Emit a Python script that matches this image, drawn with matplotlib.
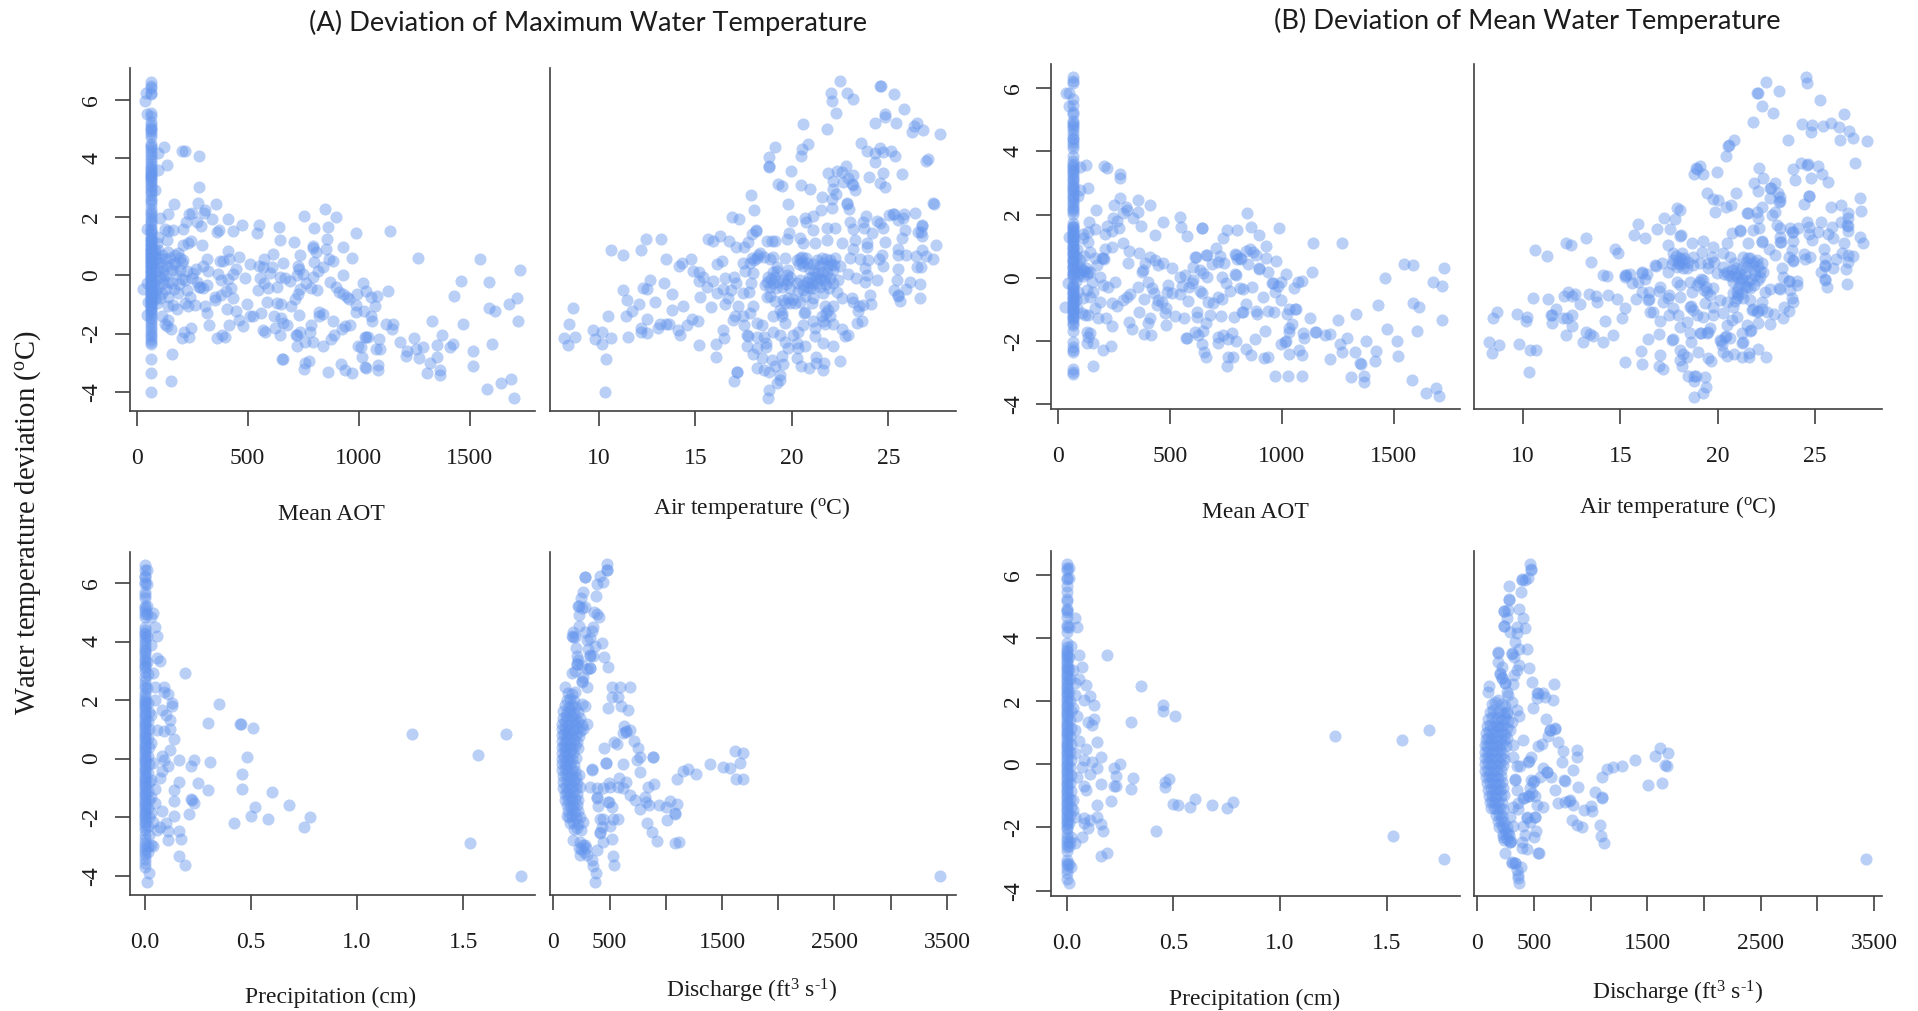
import numpy as np
import matplotlib
matplotlib.use("Agg")
import matplotlib.pyplot as plt

plt.rcParams['font.family'] = ['Liberation Serif', 'DejaVu Sans']
plt.rcParams['mathtext.fontset'] = 'custom'
plt.rcParams['mathtext.rm'] = 'Liberation Serif'
plt.rcParams['mathtext.default'] = 'rm'

W, H = 1918, 1011
POINT_COLOR = '#6495ED'
AXIS_COLOR = '#404040'
TEXT_COLOR = '#1c1c1c'

# (A) deviation of maximum water temperature vs mean AOT
aot_fill_a = 63
aot_max_col = [6.62,6.5,6.42,6.25,6.2,5.55,5.45,5.25,5.15,5.05,5.0,4.95,4.85,4.75,4.5,4.42,4.35,4.25,4.15,4.05,3.95,3.85,3.75,3.68,3.6,3.55,3.48,3.42,3.38,3.32,3.25,3.18,3.1,3.02,2.92,2.85,2.75,2.62,2.55,2.45,2.28,2.18,2.1,2.0,1.9,1.82,1.72,1.6,1.55,1.48,1.4,1.32,1.25,1.18,1.1,1.02,.95,.88,.82,.75,.7,.62,.55,.5,.42,.35,.3,.22,.15,.1,.02,-.05,-.12,-.2,-.25,-.32,-.4,-.45,-.52,-.6,-.65,-.72,-.8,-.85,-.92,-1.0,-1.08,-1.15,-1.25,-1.32,-1.42,-1.5,-1.6,-1.7,-1.8,-1.92,-2.0,-2.08,-2.18,-2.28,-2.36,-2.86,-3.35,-4.0,
    1.2,1.05,.9,.72,.58,.45,.28,.12,-.02,-.15,-.3,-.42,-.58,-.7,-.88,-1.02,-1.2]
aot_max_pts = [(37,5.97),(42,6.24),(48,5.54),(125,4.38),(98,4.19),(203,4.27),(218,4.26),(279,4.09),(137,3.77),(98,3.59),(279,3.04),(83,2.92),(168,2.44),(276,2.47),(356,2.45),(310,2.23),(302,2.12),(248,2.14),(237,2.09),(140,2.09),(105,1.97),(338,1.93),(410,1.93),(222,1.82),(270,1.82),(290,1.69),(473,1.73),(549,1.71),(642,1.64),(755,2.04),(848,2.27),(899,1.98),(860,1.65),(798,1.63),(987,1.44),(1140,1.5),(543,1.44),(208,1.6),(128,1.6),(143,1.52),(162,1.54),(360,1.48),(370,1.54),(432,1.5),(138,1.21),(644,1.2),(707,1.13),(857,1.25),(245,1.19),(233,1.09),(207,1.04),(293,1.04),(792,1.01),(806,.81),(795,.93),(852,.89),(929,.96),(411,.82),(615,.72),(734,.71),(462,.62),(1268,.6),(1548,.56),(972,.58),(315,.57),(417,.55),(377,.49),(390,.5),(573,.55),(866,.55),(882,.5),(797,.46),(659,.41),(510,.4),(551,.32),(567,.27),(609,.28),(725,.32),(729,.2),(840,.27),(818,.14),(446,.23),(300,.3),(323,.14),(267,.22),(365,.06),(1727,.18),(435,.05),(602,.08),(645,-.05),(668,-.1),(690,-.19),(720,0),(750,.03),(929,.01),(795,-.06),(486,-.1),(555,-.11),(380,-.15),(410,-.14),(1460,-.18),(1586,-.22),(1020,-.27),(870,-.24),(575,-.25),(762,-.27),(786,-.43),(900,-.41),(912,-.56),(930,-.65),(1033,-.55),(1134,-.55),(547,-.5),(592,-.42),(630,-.41),(735,-.46),(727,-.64),(814,-.52),(993,-.64),(424,-.42),(402,-.55),(382,-.67),(352,-.73),(354,-.84),(315,-.33),(279,-.41),(300,-.44),(1428,-.71),(1057,-.75),(1084,-.7),(949,-.75),(955,-.8),(1714,-.79),(712,-.81),(435,-.79),(585,-.9),(630,-.96),(652,-.99),(694,-1.04),(495,-.98),(1677,-.97),(990,-1.01),(1072,-1.06),(307,-1.04),(262,-1.01),(408,-1.15),(447,-1.22),(1587,-1.11),(1615,-1.21),(987,-1.25),(1023,-1.24),(822,-1.25),(840,-1.32),(819,-1.38),(318,-1.31),(561,-1.3),(510,-1.38),(525,-1.39),(729,-1.37),(619,-1.41),(648,-1.45),(462,-1.52),(885,-1.55),(1057,-1.41),(1060,-1.56),(1330,-1.58),(1716,-1.58),(1468,-1.66),(327,-1.69),(414,-1.69),(480,-1.75),(1125,-1.66),(1155,-1.66),(1150,-1.85),(657,-1.64),(679,-1.7),(783,-1.69),(963,-1.71),(940,-1.75),(927,-1.85),(570,-1.87),(577,-1.93),(622,-1.81),(243,-1.81),(213,-1.96),(736,-1.93),(780,-1.96),(889,-2.04),(717,-2.04),(722,-2.05),(645,-2.06),(360,-2.15),(384,-2.06),(397,-2.1),(202,-2.14),(237,-2.11),(1035,-2.1),(1040,-2.1),(1030,-2.1),(1374,-2.06),(1251,-2.15),(1092,-2.2),(877,-2.2),(1188,-2.27),(760,-2.3),(792,-2.28),(721,-2.42),(838,-2.43),(997,-2.43),(1012,-2.46),(1425,-2.34),(1413,-2.47),(1351,-2.4),(1290,-2.46),(1260,-2.52),(1077,-2.51),(1098,-2.51),(1602,-2.34),(1516,-2.6),(1218,-2.61),(1215,-2.75),(157,-2.71),(1272,-2.85),(1351,-2.8),(1014,-2.81),(655,-2.86),(658,-2.88),(777,-2.95),(757,-2.99),(755,-3.2),(920,-3.04),(937,-3.25),(969,-3.36),(1323,-3.01),(1516,-3.11),(1089,-3.09),(1089,-3.26),(1030,-3.16),(1032,-3.18),(861,-3.3),(1308,-3.34),(1365,-3.26),(1368,-3.43),(1687,-3.57),(1642,-3.69),(1580,-3.91),(1701,-4.22),(156,-3.61),
    (98,.87),(143,.81),(173,.7),(195,.58),(210,.52),(105,.41),(135,.3),(120,.13),(158,.18),(195,.18),(225,.13),(255,.07),(105,-.05),(143,-.22),(120,-.27),(158,-.27),(218,-.16),(248,-.1),(270,-.22),(285,-.39),(225,-.5),(188,-.62),(98,-.44),(105,-.79),(143,-.73),(240,-.73),(143,-1.05),(165,-1.01),(180,-1.16),(232,-1.07),(218,-.96),(113,-1.41),(143,-1.53),(128,-1.66),(153,-1.85),(135,-1.73),(90,-.96),(30,-.46),(45,-.27),(48,-1.36),(50,-.92),(48,1.57),(98,1.32),(90,1.09),(83,.87),(188,.75),(150,.58),(113,.7),(173,.41),(203,.41),(85,.6),(90,.2),(85,-.15),(88,-.6),
    (82,.75),(80,.45),(82,.1),(80,-.3),(82,-.5),(84,-.8),(100,.6),(112,.28),(128,.55),(118,-.1),(130,-.48),(112,-.62),(128,.02),(160,.4),(178,.05),(190,-.3),(205,-.12),(168,-.48)]

# (A) vs air temperature
air_max_pts = [(22.5,6.64),(22.02,6.25),(22.08,5.97),(22.86,6.25),(23.19,6.04),(24.57,6.47),(24.6,6.47),(25.3,6.21),(22.29,5.55),(25.83,5.69),(24.85,5.54),(24.81,5.42),(20.56,5.19),(21.81,5.0),(24.33,5.22),(25.4,5.23),(26.5,5.22),(26.33,5.12),(26.22,4.91),(26.8,4.97),(27.7,4.83),(23.6,4.54),(23.91,4.27),(24.57,4.36),(24.33,4.19),(24.74,4.21),(25.14,4.27),(25.35,4.09),(24.31,3.87),(26.95,3.91),(27.07,3.97),(20.84,4.49),(20.51,4.31),(20.46,4.07),(19.13,4.38),(18.84,4.05),(18.8,3.72),(18.84,3.74),(19.96,3.57),(21.89,3.52),(22.32,3.58),(22.58,3.54),(22.81,3.75),(23.19,3.43),(22.93,3.32),(22.64,3.18),(23.15,3.09),(23.12,3.12),(23.27,2.92),(22.12,3.23),(24.0,3.37),(24.72,3.52),(25.73,3.46),(24.59,3.15),(24.85,3.04),(19.27,3.12),(19.48,3.07),(20.46,3.08),(20.96,2.97),(22.15,2.94),(22.29,2.8),(22.08,2.62),(21.58,2.67),(17.89,2.74),(18.06,2.22),(19.79,2.45),(22.84,2.46),(22.88,2.44),(22.95,2.27),(22.08,2.3),(21.53,2.23),(27.33,2.46),(27.36,2.45),(16.89,1.98),(17.27,1.93),(21.12,2.04),(20.69,1.95),(20.72,1.83),(20,1.85),(23.84,2.04),(25.03,2.07),(25.26,2.11),(25.3,2.1),(25.83,2.11),(26.36,2.13),(25.52,1.89),(25.74,1.95),(23.03,1.81),(23.67,1.81),(23.74,1.63),(24.4,1.86),(24.57,1.78),(24.74,1.63),(26.73,1.71),(26.76,1.69),(26.55,1.48),(26.76,1.34),(26.69,1.49),(25.86,1.54),(25.69,1.29),(23.19,1.57),(24.14,1.44),(24.83,1.14),(18.13,1.55),(18.15,1.53),(17.96,1.4),(17.75,1.15),(17.53,.98),(12.43,1.25),(13.25,1.25),(15.68,1.24),(15.9,1.19),(16.27,1.34),(16.75,1.16),(17.09,.98),(10.62,.88),(11.24,.7),(12.19,.87),(13.49,.55),(14.76,.57),(14.33,.41),(14.14,.32),(16.11,.39),(16.37,.49),(18.7,1.17),(19.13,1.17),(18.95,1.18),(19.87,1.46),(19.74,1.24),(20.43,1.29),(20.6,1.09),(21.12,1.55),(21.81,1.61),(22.24,1.61),(21.2,1.09),(21.81,1.21),(22.58,1.09),(23.27,1.21),(23.19,.9),(23.92,1.12),(23.89,.98),(25.52,.89),(25.52,.7),(25.92,.7),(26.42,.67),(26.73,.87),(26.93,.66),(27.33,.55),(27.49,1.03),(24.66,.7),(24.54,.56),(24.74,.3),(23.02,.6),(23.54,.55),(23.96,.52),(23.79,.24),(23.88,.01),(25.48,.2),(26.47,.27),(26.69,.27),(25.45,-.16),(26.1,-.22),(25.9,-.47),(26.64,-.31),(25.31,-.52),(25.48,-.67),(25.52,-.7),(25.6,-.87),(26.66,-.77),(24.43,-.17),(23.79,-.24),(23.33,-.1),(22.93,.05),(24.05,-.67),(24.1,-.98),(23.71,-1.01),(23.5,-1.04),(23.41,-1.21),(23.62,-1.55),(23.4,-1.65),(23.1,-.79),(23.19,-.92),
    (20.25,.52),(20.51,.64),(20.77,.41),(20.6,.3),(21.29,.52),(21.63,.41),(22,.52),(22.24,.58),(22.5,.3),(22.15,.18),(21.81,.07),(21.38,.07),(21.03,-.05),(20.77,-.22),(21.29,-.27),(21.63,-.16),(22,-.1),(22.41,-.16),(20.94,-.44),(20.6,-.5),(21.63,-.62),(22.32,-.56),(22.58,-.79),(21.12,-.79),(20.25,-.27),(19.82,-.16),(19.91,-.44),(19.48,-.39),(19.04,-.27),(18.7,-.22),(18.87,-.39),(19.22,.13),(19.13,-.05),(19.82,.18),(19.65,.58),(19.04,.64),(18.35,.75),(18.18,.58),(17.83,.41),(17.49,.41),(17.58,.13),(18.01,.07),(17.87,-.27),(17.8,-.56),(17.49,-.62),(18.7,-.73),(19.65,-.96),(20.17,-.96),(19.9,-.96),(20.63,-1.3),(20.66,-1.27),(21.03,-.96),(21.72,-1.07),(22.15,-1.07),(21.98,-1.41),(21.55,-1.41),(22.15,-1.66),(21.72,-1.66),(21.08,-1.58),(18.0,-1.07),(17.84,-1.3),(17.23,-1.07),(17.46,-1.38),(17.06,-1.41),(16.97,-1.54),(19.48,-1.41),(19.65,-1.64),(19.04,-1.41),(18.18,-1.64),(18.44,-1.7),(17.53,-1.71),(19.04,-1.93),(19.39,-2.04),(20.6,-1.7),(20.34,-1.93),(20.08,-2.04),(21.2,-1.81),(21.2,-2.07),(22.58,-1.85),(22.76,-2.07),(22.9,-2.04),(16.42,-1.87),(16.51,-2.15),(16.06,-2.34),(15.21,-2.4),(16.09,-2.8),(17.7,-2.06),(17.74,-2.08),(18.18,-2.1),(18.56,-2.1),(18.67,-2.32),(17.66,-2.42),(18.18,-2.5),(18.01,-2.7),(18.67,-2.47),(19.65,-2.27),(19.82,-2.5),(19.48,-2.76),(20.25,-2.32),(20.34,-2.5),(20.68,-2.42),(21.63,-2.32),(22.12,-2.43),(18.44,-2.84),(19,-2.89),(20.29,-2.84),(21.25,-2.81),(21.25,-3.01),(21.67,-3.01),(22.5,-2.95),(19.56,-3.04),(19.13,-3.12),(20.48,-3.12),(20.88,-3.19),(21.63,-3.26),(18.18,-3.18),(18.56,-3.26),(18.84,-3.33),(19.39,-3.41),(19.39,-3.58),(19.25,-3.69),(17.15,-3.33),(17.18,-3.31),(16.99,-3.61),(18.8,-3.92),(18.77,-4.22),(8.65,-1.11),(8.48,-1.68),(8.22,-2.15),(8.77,-2.11),(8.43,-2.4),(10.5,-1.39),(9.72,-1.87),(10.19,-1.93),(9.81,-2.18),(10.16,-2.34),(10.62,-2.14),(10.38,-2.86),(10.33,-4.0),(11.28,-.5),(11.48,-.85),(12.09,-.99),(11.71,-1.24),(11.4,-1.38),(12.52,-1.49),(11.5,-2.1),(12.19,-1.81),(12.19,-1.96),(12.49,-1.98),(12.64,-.16),(12.31,-.43),(12.49,-.46),(13.4,-.27),(12.93,-.92),(13.78,-.63),(13.78,-1.2),(14.35,-1.04),(13.18,-1.66),(13.49,-1.68),(13.62,-1.66),(13.09,-1.82),(14.13,-1.89),(14.23,-2.06),(14.59,-1.69),(14.83,-1.5),(15.16,-1.58),(14.87,.14),(15.21,.1),(15.42,-.05),(15.21,-.18),(15.59,-.41),(15.94,-.18),(16.54,-.1),(17.03,-.05),(17.09,-.27),(16.46,-.48),(16.11,-.62),(16.84,-.52),(16.68,-.79),(16.54,-.98),(15.27,-.75),(15.8,-1.09),
    (20.4,.6),(20.55,.45),(20.35,.38),(20.75,.58),(20.9,.25),(21.1,.4),(21.15,.15),(21.45,.3),(21.55,.6),(21.75,.55),(21.9,.3),(22.05,.4),(22.2,.35),(21.55,.12),(21.7,-.05),(21.45,-.12),(21.25,-.05),(21.05,-.25),(20.9,-.08),(20.85,-.4),(21.1,-.45),(21.45,-.4),(21.75,-.3),(21.95,-.42),(22.15,-.25),(20.45,-.15),(20.6,-.35),(20.3,-.55),(19.55,-.15),(19.7,-.3),(19.3,-.22),(19.2,-.42),(18.9,-.12),(18.75,-.05),(18.6,-.32),(19.05,.12),(19.25,.28),(18.85,.55),(18.55,.62),(18.25,.7),(18.05,.52),(17.95,.6),(19.55,-.85),(19.8,-.78),(20.05,-.82),(20.45,-.92),(20.7,-.72),(19.75,.02),(19.9,-.05),(18.85,-.72),(19.15,-.88),(19.4,-1.2),(19.5,-1.3),(21.75,-1.3),(21.85,-1.2),(21.6,-1.55)]

# (A) vs precipitation
precip_max_col = [6.6,6.45,6.25,6.2,6.05,5.95,5.7,5.6,5.5,5.2,5.15,5.05,4.95,4.85,4.5,4.4,4.3,4.25,4.15,4.05,3.95,3.85,3.75,3.68,3.6,3.52,3.42,3.35,3.25,3.18,3.1,2.95,2.8,2.65,2.5,2.4,2.25,2.15,2.05,1.98,1.9,1.82,1.75,1.68,1.6,1.52,1.45,1.38,1.3,1.22,1.15,1.08,1.0,.92,.85,.78,.7,.62,.55,.48,.4,.32,.25,.18,.1,.02,-.05,-.12,-.2,-.28,-.35,-.42,-.5,-.58,-.65,-.72,-.8,-.88,-.95,-1.02,-1.1,-1.18,-1.25,-1.32,-1.4,-1.48,-1.55,-1.62,-1.7,-1.78,-1.85,-1.92,-2.0,-2.08,-2.15,-2.25,-2.35,-2.45,-2.6,-2.75,-2.88,-3.0,-3.1,-3.2,-3.3,-3.42,-3.55,-3.7]
precip_max_pts = [(.19,2.94),(.35,1.85),(.3,1.22),(.45,1.18),(.452,1.17),(.51,1.06),(1.26,.85),(1.7,.85),(1.57,.11),(.48,.06),(.31,-.1),(.23,-.06),(.22,-.26),(.16,-.03),(.46,-.52),(.25,-.85),(.16,-.81),(.14,-1.07),(.3,-1.07),(.46,-1.05),(.6,-1.13),(.68,-1.59),(.52,-1.67),(.5,-1.95),(.58,-2.07),(.78,-1.98),(.75,-2.33),(.42,-2.19),(.22,-1.39),(.225,-1.41),(.23,-1.53),(.14,-1.46),(.21,-1.88),(.14,-1.97),(.08,-1.78),(.1,-2.19),(.07,-2.32),(.11,-2.49),(.16,-2.47),(.17,-2.73),(.11,-2.77),(.16,-3.34),(.19,-3.62),(1.53,-2.88),(1.77,-4.02),(.04,4.97),(.03,4.83),(.05,4.51),(.06,4.19),(.06,3.43),(.07,3.35),(.04,2.92),(.09,2.46),(.09,2.26),(.11,2.22),(.13,1.89),(.13,1.81),(.08,1.66),(.1,1.5),(.12,1.32),(.12,1.01),(.09,.96),(.06,.98),(.14,.68),(.12,.3),(.08,.09),(.09,-.05),(.11,-.25),(.08,-.44),(.07,-.67),(.05,-1.04),(.05,-1.53),(.04,-2.15),(.06,-2.44),(.04,-2.98),(.02,-3.92),(.01,-4.23),(.03,3.88),(.05,2.46),(.05,2.0),(.03,1.49),(.03,.52),(.04,-.16),(.03,-.73),(.03,-1.3),(.03,-1.87),(.03,-2.95),
    (.01,6.45),(.01,5.95),(.01,5.2),(.01,4.95),(.01,4.2),(.01,3.3),(.015,2.9),(.012,2.4),(.015,1.9),(.02,1.6),(.015,1.3),(.02,1.0),(.015,.7),(.02,.4),(.015,.1),(.02,-.2),(.015,-.5),(.02,-.8),(.015,-1.1),(.02,-1.4),(.015,-1.7),(.02,-2.0),(.015,-2.3),(.02,-2.6),(.015,-3.0),(.015,-3.2)]

# (A) vs discharge
discharge_max_pts = [(474,6.64),(474,6.45),(478,6.43),(282,6.22),(286,6.2),(415,6.24),(445,6.03),(391,5.95),(261,5.68),(379,5.54),(243,5.48),(222,5.23),(226,5.21),(282,5.19),(252,5.14),(231,4.91),(362,5.0),(391,4.94),(409,4.83),(231,4.53),(356,4.51),(341,4.37),(178,4.34),(169,4.19),(173,4.17),(193,4.17),(282,4.34),(326,4.11),(296,4.05),(430,3.94),(370,3.85),(199,3.77),(311,3.74),(326,3.54),(330,3.52),(356,3.51),(451,3.46),(483,3.14),(207,3.49),(222,3.37),(207,3.23),(211,3.25),(252,3.2),(326,3.09),(330,3.1),(296,3.05),(193,3.01),(163,2.92),(267,2.8),(252,2.63),(256,2.65),(296,2.46),(525,2.46),(593,2.46),(682,2.46),(525,2.1),(578,2.12),(602,1.81),(489,1.72),(661,1.66),(628,1.12),(682,.98),(646,.92),(650,.93),(617,.87),(717,.59),(539,.58),(569,.5),(750,.35),(453,.35),(771,.07),(747,-.05),(883,.07),(886,.05),(622,-.18),(468,-.16),(472,-.15),(771,-.47),(341,-.36),(345,-.38),(1615,.27),(1684,.18),(1660,-.14),(1390,-.18),(1506,-.27),(1571,-.32),(1200,-.34),(1150,-.44),(1269,-.52),(1097,-.69),(1624,-.69),(1689,-.69),(587,-.66),(646,-.79),(898,-.88),(845,-.96),(498,-.84),(504,-.98),(445,-1.01),(385,-1.01),(326,-.98),(578,-.96),(617,-1.01),(682,-1.24),(726,-1.41),(815,-1.3),(824,-1.47),(385,-1.32),(389,-1.34),(489,-1.49),(493,-1.47),(400,-1.61),(519,-1.66),(774,-1.73),(848,-1.59),(943,-1.59),(1002,-1.67),(1037,-1.45),(1097,-1.56),(1082,-1.89),(1086,-1.87),(1008,-2.11),(836,-2.21),(880,-2.51),(925,-2.82),(1082,-2.87),(1120,-2.84),(415,-2.07),(445,-2.07),(534,-2.07),(578,-2.07),(504,-2.29),(430,-2.32),(415,-2.53),(419,-2.51),(519,-2.73),(445,-2.84),(178,-2.78),(391,-3.12),(534,-3.34),(542,-3.62),(341,-3.46),(356,-3.67),(379,-3.92),(370,-4.23),(3441,-4.02),(104,2.46),(119,-1.96),
    (133,2.25),(163,2.2),(190,2.27),(120,2.0),(152,2.05),(181,1.98),(104,1.82),(136,1.78),(163,1.84),(193,1.76),(252,1.85),(282,1.8),(90,1.62),(120,1.58),(150,1.64),(180,1.56),(222,1.6),(85,1.4),(110,1.44),(133,1.37),(163,1.42),(193,1.36),(240,1.4),(80,1.2),(104,1.24),(133,1.16),(163,1.22),(193,1.18),(222,1.25),(252,1.15),(296,1.2),(78,1.0),(104,1.04),(125,.96),(150,1.02),(178,.97),(207,1.03),(237,.96),(267,1.0),(74,.8),(95,.84),(120,.77),(140,.83),(170,.78),(199,.82),(231,.76),(74,.6),(100,.56),(125,.63),(150,.58),(180,.62),(207,.57),(74,.4),(95,.43),(115,.37),(140,.42),(163,.38),(193,.44),(222,.37),(78,.2),(100,.24),(125,.17),(150,.22),(178,.18),(74,0),(95,.04),(120,-.03),(140,.02),(170,-.02),(199,.03),(74,-.2),(100,-.17),(125,-.23),(150,-.18),(180,-.22),(78,-.4),(104,-.37),(133,-.43),(163,-.38),(193,-.42),(85,-.6),(110,-.57),(140,-.63),(170,-.58),(199,-.62),(231,-.56),(90,-.8),(120,-.77),(150,-.83),(180,-.78),(210,-.82),(85,-1.0),(115,-.97),(140,-1.03),(170,-.98),(199,-1.02),(240,-.98),(100,-1.2),(125,-1.17),(150,-1.23),(178,-1.18),(207,-1.22),(104,-1.4),(133,-1.37),(163,-1.43),(193,-1.38),(222,-1.42),(125,-1.6),(150,-1.57),(178,-1.63),(207,-1.58),(133,-1.8),(163,-1.77),(193,-1.83),(222,-1.78),(140,-2.0),(170,-1.97),(199,-2.03),(240,-1.98),(150,-2.2),(178,-2.17),(222,-2.23),(260,-2.18),(180,-2.4),(215,-2.37),(250,-2.43),(240,-2.85),(260,-2.95),(230,-3.05),(250,-3.1),(290,-3.05),(270,-3.2),(240,-3.3),(300,-3.3),(285,-2.95)]

# (B) deviation of mean water temperature vs mean AOT
aot_fill_b = 66
aot_mean_col = [6.35,6.22,6.18,5.65,5.48,5.25,5.2,4.95,4.9,4.85,4.78,4.68,4.55,4.42,4.38,4.3,4.2,4.1,3.85,3.7,3.6,3.55,3.48,3.42,3.35,3.28,3.2,3.12,3.05,2.98,2.92,2.85,2.78,2.7,2.62,2.55,2.48,2.4,2.32,2.25,2.18,2.1,2.02,1.72,1.65,1.58,1.5,1.42,1.35,1.28,1.2,1.12,1.05,.98,.9,.82,.75,.68,.6,.52,.45,.38,.3,.22,.15,.08,0,-.22,-.3,-.38,-.45,-.52,-.6,-.68,-.75,-.82,-.9,-.98,-1.05,-1.12,-1.2,-1.28,-1.35,-1.42,-1.5,-1.68,-2.05,-2.2,-2.28,-2.35,-2.9,-3.0,-3.05,
    1.62,1.45,1.3,1.15,.95,.78,.55,.35,.12,-.3,-.48,-.65,-.8,-.95,-1.1,-1.25]
aot_mean_pts = [(34,5.86),(49,5.86),(51,5.45),(125,3.58),(98,3.51),(206,3.55),(218,3.46),(279,3.28),(279,3.15),(136,2.85),(98,2.78),(88,2.6),(277,2.54),(356,2.47),(411,2.3),(250,2.29),(304,2.23),(307,2.16),(289,2.05),(359,2.07),(170,2.13),(337,1.88),(244,1.88),(262,1.8),(139,1.76),(471,1.76),(544,1.92),(371,1.63),(274,1.59),(218,1.65),(240,1.48),(165,1.53),(136,1.46),(110,1.4),(210,1.4),(434,1.35),(550,1.6),(575,1.31),(642,1.58),(645,1.56),(754,1.5),(799,1.51),(846,2.04),(860,1.6),(736,1.25),(989,1.59),(900,1.34),(1140,1.11),(1268,1.1),(292,1.11),(136,1.14),(113,1.25),(240,.96),(210,.91),(319,.85),(364,.77),(706,.93),(724,.69),(840,.85),(858,.9),(873,.8),(884,.71),(928,1.0),(928,.62),(973,.54),(791,.75),(795,.73),(814,.61),(818,.6),(799,.58),(612,.66),(616,.64),(662,.72),(666,.71),(411,.64),(434,.56),(468,.45),(314,.45),(389,.45),(448,.4),(690,.44),(717,.49),(742,.45),(851,.42),(508,.31),(605,.33),(635,.24),(650,.16),(897,.3),(900,.28),(937,.17),(1019,.11),(1134,.17),(1548,.44),(1588,.4),(1725,.3),(1460,-.01),(1675,-.13),(1714,-.27),(1074,-.13),(1090,-.11),(1055,-.32),(985,-.26),(995,-.13),(955,-.18),(959,-.16),(970,-.44),(866,-.31),(814,-.32),(828,-.37),(791,.12),(795,.1),(732,.03),(665,.03),(568,.08),(545,.03),(605,-.07),(597,-.18),(586,-.31),(553,-.26),(635,-.41),(645,-.5),(545,-.53),(508,-.5),(493,-.23),(486,-.44),(749,-.18),(769,-.41),(672,-.76),(694,-.79),(714,-.62),(732,-.69),(580,-.74),(918,-.62),(995,-.72),(840,-.83),(1429,-.85),(1588,-.79),(1615,-.93),(359,-.31),(381,.24),(375,.19),(404,-.13),(419,-.34),(429,-.5),(448,-.71),(463,-.76),(441,-.87),(483,-.97),(478,-1.13),(386,-.68),(322,-.53),(307,-.6),(292,-.71),(262,-.9),(240,-.81),(364,-1.1),(411,-1.29),(401,-1.45),(523,-1.21),(563,-1.27),(620,-1.1),(623,-1.26),(679,-1.18),(730,-1.2),(787,-1.23),(821,-1.08),(825,-1.1),(885,-1.06),(888,-1.16),(940,-1.06),(963,-1.1),(1022,-1.16),(1034,-1.0),(1059,-1.0),(1063,-.98),(1126,-1.29),(1250,-1.34),(1331,-1.16),(319,-1.39),(329,-1.63),(483,-1.49),(386,-1.79),(414,-1.83),(662,-1.42),(612,-1.71),(647,-1.68),(627,-1.82),(572,-1.92),(576,-1.9),(642,-2.1),(653,-2.37),(659,-2.5),(717,-1.89),(739,-1.83),(717,-2.06),(776,-1.76),(761,-1.93),(796,-1.99),(878,-1.95),(927,-1.7),(1044,-1.47),(1034,-1.6),(1034,-1.71),(1149,-1.71),(1153,-1.73),(1094,-1.76),(1097,-1.92),(1191,-1.82),(1216,-1.77),(1469,-1.63),(1603,-1.69),(1715,-1.33),(1290,-1.92),(1261,-2.11),(1375,-2.01),(1514,-2.01),(1015,-2.03),(1019,-2.01),(997,-2.1),(840,-2.26),(863,-2.45),(761,-2.52),(781,-2.52),(754,-2.8),(921,-2.56),(937,-2.5),(1031,-2.43),(1077,-2.29),(1089,-2.46),(1216,-2.59),(1271,-2.36),(1325,-2.36),(1350,-2.69),(1353,-2.72),(1421,-2.31),(1416,-2.64),(1517,-2.49),(969,-3.12),(1027,-3.13),(1089,-3.12),(1308,-3.16),(1365,-3.1),(1368,-3.29),(1581,-3.23),(1642,-3.66),(1688,-3.48),(1702,-3.76),(155,-2.81),(203,-2.29),(237,-2.15),(131,-2.08),(158,-2.08),(143,-1.76),(131,-1.71),(136,-1.87),(215,-1.29),(180,-1.29),(243,-1.52),(121,-1.18),(136,-1.18),(165,-.97),(106,-1.13),(31,-.94),(113,-.65),(143,-.6),(158,-.44),(128,-.39),(188,-.78),(150,-.13),(203,-.23),(225,-.28),(255,-.13),(188,.03),(113,.24),(117,.22),(136,.19),(98,.35),(173,.4),(165,.61),(195,.61),(199,.63),(205,.59),(143,.82),(46,-.18),(51,1.3),(85,.9),(85,.4),(90,.05),(88,-.45),(85,-.95),
    (82,.7),(84,.2),(80,-.1),(82,-.7),(100,.15),(112,.05),(125,.3),(128,.12),(145,.18),(100,.55),(118,.7)]

# (B) vs air temperature
air_mean_pts = [(24.54,6.36),(24.59,6.18),(22.5,6.21),(23.18,5.92),(22.02,5.84),(22.06,5.85),(25.28,5.64),(22.29,5.45),(22.84,5.22),(26.51,5.2),(21.81,4.92),(24.33,4.87),(24.85,4.85),(24.8,4.62),(25.4,4.82),(25.82,4.91),(26.24,4.78),(26.77,4.64),(26.96,4.44),(26.32,4.37),(27.68,4.33),(23.61,4.37),(20.83,4.37),(20.56,4.17),(20.6,4.2),(20.46,3.85),(27.08,3.64),(19.1,3.55),(18.9,3.46),(18.94,3.44),(18.81,3.28),(19.27,3.27),(19.96,3.34),(22.14,3.47),(23.9,3.45),(24.28,3.64),(24.59,3.57),(24.63,3.59),(25.14,3.55),(25.36,3.28),(24.83,3.16),(23.99,3.08),(25.7,3.03),(22.34,3.16),(21.88,3.01),(22.96,2.99),(22.7,2.83),(22.74,2.85),(22.1,2.75),(23.13,2.67),(23.22,2.56),(23.18,2.41),(23.22,2.43),(22.7,2.54),(24.68,2.6),(24.72,2.58),(24.42,2.33),(19.46,2.68),(20.96,2.67),(19.79,2.48),(20,2.46),(20.68,2.3),(20.44,2.23),(19.89,2.08),(22.27,2.23),(21.54,2.04),(21.58,2.05),(22.05,2.09),(22.07,1.88),(22.96,2.07),(22.79,1.98),(25.82,2.25),(26.34,2.29),(27.3,2.53),(27.38,2.12),(26.73,2.04),(26.73,1.89),(17.9,2.2),(18.07,2.16),(17.27,1.88),(17.8,1.87),(17.56,1.54),(16.91,1.53),(15.91,1.71),(15.69,1.35),(16.27,1.27),(18.07,1.32),(18.11,1.35),(17.44,1.03),(18.71,1.09),(19.24,1.16),(19.79,.98),(20.47,1.11),(20.73,1.42),(21.13,1.51),(21.17,1.49),(21.81,1.51),(22.15,1.58),(23.05,1.67),(23.22,1.56),(23.73,1.58),(24.16,1.59),(24.59,1.77),(24.71,1.61),(25.34,1.78),(25.86,1.61),(26.34,1.77),(26.65,1.67),(26.69,1.65),(26.73,1.48),(25.19,1.46),(25.7,1.4),(25.91,1.25),(24.68,1.37),(24.85,1.18),(27.33,1.3),(27.5,1.11),(26.48,1.11),(23.22,1.3),(23.22,1.12),(23.26,1.14),(23.82,1.46),(23.86,1.44),(23.9,1.17),(22.27,1.14),(22.31,1.16),(21.59,1.09),(22.62,.91),(22.96,.72),(23.82,.88),(23.9,.56),(23.86,.54),(23.65,.66),(24.42,.74),(24.5,.59),(24.76,.64),(25.45,.91),(25.53,.61),(25.5,.4),(25.54,.38),(25.91,.3),(26.11,.58),(26.39,.79),(26.73,.72),(26.96,.69),(26.7,.51),(26.61,.26),(25.33,.17),(25.5,-.07),(25.54,-.05),(25.62,-.3),(26.65,-.19),(23.3,.3),(23.39,.03),(23.65,-.11),(23.69,-.09),(24.08,-.11),(24.11,-.23),(23.73,-.39),(23.18,-.32),(23.22,-.37),(22.7,-.37),(22.45,-.44),(23.82,-.65),(23.9,-.76),(23.42,-.92),(23.65,-1.06),(23.39,-1.29),(22.88,-1.16),(22.7,-1.48),(22.1,-1.42),
    (10.62,.89),(11.23,.69),(12.19,1.09),(12.45,1.02),(13.24,1.25),(14.75,.92),(14.87,.78),(13.48,.49),(14.13,.08),(14.34,.06),(15.25,.08),(15.29,.1),(15.5,.12),(16.1,.17),(16.14,.15),(16.36,.12),(15.23,.01),(15.59,-.18),(15.9,-.13),(16.27,-.05),(17.13,.47),(16.79,.4),(16.83,.38),(10.51,-.64),(11.27,-.69),(12.11,-.58),(12.33,-.46),(12.5,-.58),(12.67,-.52),(12.93,-.83),(13.41,-.52),(13.75,-.57),(13.79,-.78),(14.35,-.55),(14.83,-.68),(15.79,-.68),(16.1,-.46),(16.5,-.46),(16.45,-.71),(16.49,-.69),(17.05,-.31),(16.99,-.41),(17.53,-.55),(17.47,-.65),(17.22,-.76),(18.07,-.62),(15.26,-.97),(15.11,-1.28),(14.22,-1.36),(16.53,-1.1),(16.67,-1.1),(17.53,-1.18),(17.05,-1.37),(8.65,-1.1),(8.47,-1.27),(9.71,-1.16),(10.19,-1.26),(10.15,-1.37),(11.44,-1.19),(11.48,-1.17),(11.7,-1.0),(11.51,-1.45),(12.04,-1.27),(12.25,-1.27),(12.5,-1.19),(12.54,-1.52),(12.19,-1.83),(13.22,-1.71),(13.45,-1.77),(13.62,-1.85),(13.1,-2.05),(14.1,-2.05),(14.61,-1.83),(8.23,-2.04),(8.78,-2.14),(8.42,-2.4),(9.81,-2.1),(10.36,-2.29),(10.67,-2.29),(10.33,-3.0),(15.23,-2.66),(16.07,-2.31),(16.1,-2.73),(16.43,-1.93),(16.99,-1.78),(17.05,-2.45),(16.99,-2.8),(17.22,-2.89),
    (17.73,.56),(18.07,.61),(17.9,.35),(18.25,.45),(17.47,.19),(17.73,.77),(18.16,.77),(18.76,.66),(19.19,.82),(19.1,.45),(19.53,.45),(19.7,.66),(20.3,.77),(20.65,.66),(20.3,.35),(19.96,.14),(20.47,.19),(20.73,.24),(20.99,.03),(21.33,.66),(21.68,.61),(22.02,.56),(22.27,.45),(21.5,.35),(21.85,.24),(22.36,.19),(22.19,.03),(21.33,-.02),(20.82,-.13),(21.16,-.18),(21.5,-.28),(21.85,-.23),(20.82,-.5),(20.99,-.65),(21.33,-.65),(21.68,-.71),(22.27,-.76),(21.76,-1.02),(21.8,-1.0),(22.02,-1.08),(22.06,-1.06),(22.27,-1.0),(22.53,-1.08),(17.9,-.13),(18.07,-.23),(18.59,-.13),(19.27,-.07),(18.93,-.23),(19.79,-.34),(18.67,-.44),(19.45,-.44),(20.13,-.71),(18.59,-.92),(18.63,-.9),(18.76,-1.02),(19.36,-.81),(19.79,-.92),(20.47,-.76),(20.82,-.92),(17.73,-.97),(17.99,-1.18),(18.93,-1.18),(19.27,-1.23),(19.79,-1.18),(20.3,-1.13),(20.73,-1.34),(20.99,-1.23),(21.5,-1.5),(21.68,-1.69),(21.72,-1.67),(21.25,-1.74),(21.25,-2.06),(21.29,-2.04),(20.65,-1.92),(20.39,-1.87),(20.43,-1.85),(20.13,-1.97),(20.17,-1.99),(20.22,-2.13),(20.47,-1.5),(18.42,-1.39),(18.07,-1.57),(18.59,-1.76),(19.1,-1.76),(19.14,-1.74),(19.45,-1.74),(19.49,-1.72),(19.62,-1.6),(17.66,-1.97),(17.7,-1.95),(18.64,-2.03),(18.07,-2.29),(18.25,-2.42),(18.45,-2.5),(18.07,-2.61),(18.19,-2.8),(18.98,-2.37),(19.5,-2.56),(19.65,-2.64),(20.27,-2.34),(20.47,-2.48),(20.87,-2.41),(21.28,-2.52),(21.64,-2.4),(21.62,-2.51),(22.1,-2.26),(22.48,-2.5),(18.5,-3.1),(18.81,-3.13),(18.9,-3.11),(19.36,-3.16),(18.81,-3.26),(19.41,-3.45),(19.27,-3.66),(18.8,-3.77),
    (17.85,.7),(17.95,.5),(18.0,.42),(18.15,.55),(18.3,.62),(18.2,.32),(17.65,.42),(20.85,.45),(20.95,.3),(21.1,.15),(21.25,.3),(21.4,.12),(21.45,.5),(21.55,.62),(21.75,.42),(21.9,.5),(22.1,.38),(22.2,.22),(21.95,.1),(22.1,-.08),(21.7,-.05),(21.55,-.12),(21.4,-.25),(21.2,-.05),(21.05,-.32),(20.9,.12),(20.7,.05),(20.55,.1),(20.35,.12),(21.65,-.32),(21.0,-.45),(21.25,-.48),(20.9,-.75),(21.05,-.55),(19.4,-.3),(19.3,-.4),(19.05,-.15),(19.15,-.05),(19.6,-.55),(19.5,.3),(19.8,.5),(18.5,.5),(18.45,.3),(18.75,.4)]

# (B) vs precipitation
precip_mean_col = [6.35,6.22,6.15,5.88,5.85,5.65,5.45,5.22,5.18,4.92,4.88,4.82,4.65,4.42,4.35,4.2,3.85,3.72,3.62,3.55,3.48,3.42,3.35,3.28,3.2,3.12,3.05,2.98,2.9,2.82,2.75,2.68,2.6,2.52,2.45,2.38,2.3,2.22,2.15,2.08,2.0,1.92,1.85,1.78,1.7,1.62,1.55,1.48,1.4,1.32,1.25,1.18,1.1,1.02,.95,.88,.8,.72,.65,.58,.5,.42,.35,.28,.2,.12,.05,-.02,-.1,-.18,-.25,-.32,-.4,-.48,-.55,-.62,-.7,-.78,-.85,-.92,-1.0,-1.08,-1.15,-1.22,-1.3,-1.38,-1.45,-1.52,-1.6,-1.68,-1.75,-1.82,-1.9,-1.98,-2.05,-2.2,-2.32,-2.42,-2.52,-2.62,-2.75,-3.02,-3.12,-3.18,-3.3,-3.45]
precip_mean_pts = [(.19,3.46),(.35,2.48),(.45,1.88),(.45,1.7),(.51,1.54),(.3,1.35),(1.26,.88),(1.7,1.09),(1.57,.77),(.25,0),(.22,-.13),(.23,-.37),(.31,-.45),(.48,-.47),(.46,-.55),(.46,-.71),(.22,-.68),(.23,-.7),(.3,-.79),(.16,-.62),(.16,.24),(.14,.7),(.12,1.25),(.13,1.44),(.1,1.34),(.13,1.88),(.11,2.17),(.09,2.52),(.08,2.04),(.07,3.09),(.06,3.45),(.05,4.36),(.04,4.64),(.06,2.69),(.05,1.54),(.06,.75),(.09,.47),(.08,.12),(.12,.08),(.14,-.12),(.11,-.31),(.07,-.09),(.09,-.83),(.08,-.69),(.21,-1.15),(.14,-1.29),(.6,-1.1),(.5,-1.26),(.52,-1.29),(.58,-1.36),(.68,-1.29),(.75,-1.37),(.78,-1.18),(.14,-1.66),(.11,-1.76),(.08,-1.69),(.04,-1.68),(.08,-1.85),(.16,-1.9),(.17,-2.1),(.1,-2.03),(.42,-2.11),(1.53,-2.27),(.07,-2.29),(.04,-2.5),(.19,-2.82),(.16,-2.89),(1.77,-3.0),(.02,-3.26),(.01,-3.77),(0,-3.64),(.02,3.73),(.03,2.99),(.04,2.56),(.04,2.2),(.03,1.77),(.04,1.09),(.04,.35),(.05,-.39),(.03,-1.13),(.03,-1.45),(.01,6.21),(.01,5.91),(.01,4.36),
    (.01,3.4),(.012,3.0),(.015,2.7),(.012,2.3),(.015,2.0),(.02,1.7),(.015,1.4),(.02,1.15),(.015,.9),(.02,.65),(.015,.4),(.02,.15),(.015,-.1),(.02,-.35),(.015,-.6),(.02,-.85),(.015,-1.1),(.02,-1.35),(.015,-1.6),(.012,-1.85),(.02,-2.3),(.015,-2.45),(.01,-2.6),(.01,-3.15)]

# (B) vs discharge
discharge_mean_pts = [(465,6.34),(473,6.18),(477,6.16),(450,5.91),(391,5.84),(395,5.86),(420,5.84),(276,5.63),(382,5.45),(276,5.2),(280,5.22),(370,4.92),(235,4.84),(239,4.86),(273,4.89),(400,4.64),(259,4.62),(235,4.39),(239,4.37),(353,4.36),(417,4.32),(288,4.18),(347,4.15),(332,3.86),(370,3.65),(435,3.64),(179,3.54),(183,3.52),(303,3.51),(307,3.49),(326,3.39),(185,3.25),(370,3.15),(453,3.04),(215,3.09),(200,2.88),(204,2.86),(347,2.99),(326,2.83),(215,2.72),(219,2.74),(244,2.56),(248,2.58),(318,2.54),(482,2.6),(679,2.53),(103,2.49),(529,2.25),(533,2.27),(576,2.27),(523,2.11),(594,2.12),(664,2.04),(97,2.3),(259,2.3),(273,2.2),(303,1.96),(491,1.77),(353,1.72),(370,1.54),(606,1.42),(685,1.14),(689,1.12),(641,1.09),(645,1.07),(626,.88),(714,.7),(567,.64),(538,.59),(753,.43),(400,.77),(882,.45),(879,.23),(747,.07),(470,.24),(450,.07),(454,.09),(582,-.13),(612,-.23),(616,-.25),(847,-.18),(647,-.39),(553,-.39),(494,-.55),(498,-.53),(473,-.5),(767,-.5),(771,-.52),(891,-.73),(685,-.83),(1038,-.87),(1097,-1.06),(1101,-1.04),(714,-1.23),(773,-1.18),(811,-1.16),(815,-1.14),(847,-1.29),(582,-1.34),(523,-1.29),(941,-1.45),(1000,-1.32),(1011,-1.47),(838,-1.76),(876,-1.92),(926,-1.99),(1079,-1.92),(1091,-2.27),(1117,-2.5),(1100,-.41),(1147,-.15),(1200,-.09),(1273,-.07),(1388,.14),(1567,.26),(1614,.53),(1679,.37),(1655,-.02),(1676,-.07),(1508,-.66),(1626,-.58),(3434,-3.0),(509,-1.68),(513,-1.66),(435,-1.68),(439,-1.7),(465,-1.82),(406,-1.97),(517,-2.1),(420,-2.24),(500,-2.31),(391,-2.45),(441,-2.69),(391,-2.66),(538,-2.82),(542,-2.8),(244,-2.8),(303,-3.1),(307,-3.12),(332,-3.13),(336,-3.11),(385,-3.24),(347,-3.35),(362,-3.61),(370,-3.77),(355,-3.5),(288,-2.45),(292,-2.47),(229,-2.29),(273,-2.18),(318,-1.97),(288,-1.66),(318,-1.34),(362,-1.23),(406,-1.08),(410,-1.06),(450,-1.02),(454,-1.0),(479,-.92),(509,-1.02),(465,-.76),(347,-.81),(332,-.5),(336,-.48),(347,-.07),(376,-.07),(318,.24),(318,.61),(288,1.09),(303,1.35),(259,1.61),(362,-1.42),
    (126,1.9),(156,1.96),(185,2.02),(215,1.92),(245,1.85),(110,1.65),(140,1.72),(170,1.62),(200,1.68),(232,1.6),(262,1.66),(97,1.42),(126,1.48),(156,1.38),(185,1.45),(215,1.4),(245,1.46),(275,1.38),(90,1.2),(115,1.24),(140,1.16),(170,1.22),(200,1.17),(230,1.24),(260,1.16),(80,1.0),(104,1.04),(130,.96),(156,1.02),(185,.97),(215,1.03),(245,.96),(74,.8),(97,.84),(122,.77),(148,.83),(175,.78),(205,.82),(235,.76),(265,.84),(68,.6),(90,.57),(115,.63),(140,.58),(165,.62),(190,.57),(220,.63),(250,.57),(68,.4),(92,.43),(118,.37),(142,.42),(170,.38),(198,.44),(226,.37),(72,.2),(97,.24),(122,.17),(148,.22),(175,.18),(205,.23),(232,.17),(70,0),(94,.04),(118,-.03),(142,.02),(170,-.02),(198,.03),(226,-.03),(72,-.2),(97,-.17),(122,-.23),(148,-.18),(175,-.22),(205,-.17),(76,-.4),(102,-.37),(128,-.43),(154,-.38),(182,-.42),(212,-.37),(84,-.6),(110,-.57),(136,-.63),(162,-.58),(190,-.62),(218,-.56),(92,-.8),(118,-.77),(144,-.83),(170,-.78),(198,-.82),(226,-.76),(100,-1.0),(126,-.97),(152,-1.03),(178,-.98),(206,-1.02),(240,-.98),(108,-1.2),(134,-1.17),(160,-1.23),(186,-1.18),(214,-1.22),(122,-1.4),(148,-1.37),(174,-1.43),(202,-1.38),(230,-1.42),(168,-1.6),(192,-1.57),(216,-1.63),(182,-1.8),(206,-1.77),(232,-1.83),(190,-2.0),(214,-1.97),(238,-2.03),(262,-1.98),(225,-2.2),(250,-2.17),(276,-2.23),(240,-2.4),(265,-2.37),(295,-2.42),(185,1.2)]

# tick values and labels
aot_ticks = [0, 500, 1000, 1500]
aot_labels = ['0', '500', '1000', '1500']
air_ticks = [10, 15, 20, 25]
air_labels = ['10', '15', '20', '25']
precip_ticks = [0, 0.5, 1.0, 1.5]
precip_labels = ['0.0', '0.5', '1.0', '1.5']
discharge_ticks = [0, 500, 1000, 1500, 2000, 2500, 3000, 3500]
discharge_labels = ['0', '500', '', '1500', '', '2500', '', '3500']
dev_ticks = [-4, -2, 0, 2, 4, 6]
dev_labels = ['-4', '-2', '0', '2', '4', '6']


def panel(left, top, right, bottom, xlim, ylim, xticks, xlabels, pts, col_x=None, col_y=None, show_y=False):
    ax = fig.add_axes([left / W, 1 - bottom / H, (right - left) / W, (bottom - top) / H])
    pts = np.array(pts)
    xs, ys = pts[:, 0], pts[:, 1]
    if col_y is not None:
        xs = np.concatenate([xs, np.full(len(col_y), col_x)])
        ys = np.concatenate([ys, col_y])
    ax.scatter(xs, ys, s=76, color=POINT_COLOR, alpha=0.45, linewidths=0, clip_on=False)
    ax.set_xlim(*xlim)
    ax.set_ylim(*ylim)
    for side in ['top', 'right']:
        ax.spines[side].set_visible(False)
    for side in ['left', 'bottom']:
        ax.spines[side].set_color(AXIS_COLOR)
        ax.spines[side].set_linewidth(1.2)
    ax.set_xticks(xticks)
    ax.set_xticklabels(xlabels)
    ax.tick_params(axis='x', length=10.8, width=1.2, color=AXIS_COLOR, pad=16, labelsize=17, labelcolor=TEXT_COLOR)
    if show_y:
        ax.set_yticks(dev_ticks)
        ax.set_yticklabels(dev_labels, rotation=90, va='center')
        ax.tick_params(axis='y', length=10.8, width=1.2, color=AXIS_COLOR, pad=9, labelsize=17, labelcolor=TEXT_COLOR)
    else:
        ax.set_yticks([])
    return ax


def label(x, y, text, size=17, rotation=0, family=None):
    fig.text(x / W, 1 - y / H, text, ha='center', va='center', fontsize=size, rotation=rotation,
             color=TEXT_COLOR, family=family)


fig = plt.figure(figsize=(W / 100, H / 100), dpi=100)

# panels A
panel(130, 68, 535, 410.7, (-30, 1794), (-4.64, 7.1), aot_ticks, aot_labels, aot_max_pts, aot_fill_a, aot_max_col, True)
panel(549.7, 68, 955.7, 410.7, (7.46, 28.49), (-4.64, 7.1), air_ticks, air_labels, air_max_pts)
panel(130, 552.3, 535, 895, (-0.069, 1.838), (-4.66, 7.05), precip_ticks, precip_labels, precip_max_pts, 0, precip_max_col, True)
panel(549.7, 552.3, 955.7, 895, (-32, 3578), (-4.66, 7.05), discharge_ticks, discharge_labels, discharge_max_pts)

# panels B
panel(1051.3, 64, 1460, 409, (-30, 1796), (-4.16, 6.77), aot_ticks, aot_labels, aot_mean_pts, aot_fill_b, aot_mean_col, True)
panel(1474, 64, 1882.3, 409, (7.48, 28.47), (-4.16, 6.77), air_ticks, air_labels, air_mean_pts)
panel(1051.3, 551, 1460, 896, (-0.072, 1.844), (-4.17, 6.75), precip_ticks, precip_labels, precip_mean_pts, 0, precip_mean_col, True)
panel(1474, 551, 1882.3, 896, (-29, 3574), (-4.17, 6.75), discharge_ticks, discharge_labels, discharge_mean_pts)

air_text = r'Air temperature ($^{\mathrm{o}}$C)'
discharge_text = r'Discharge (ft$^{3}$ s$^{\text{-}1}$)'

label(331.5, 514, 'Mean AOT')
label(752, 508, air_text)
label(331, 997, 'Precipitation (cm)')
label(752, 991, discharge_text)
label(1255, 513, 'Mean AOT')
label(1678, 507, air_text)
label(1255, 999, 'Precipitation (cm)')
label(1678, 993, discharge_text)

label(28, 523, r'Water temperature deviation ($^{\mathrm{o}}$C)', size=20.6, rotation=90)

label(588, 23, '(A) Deviation of Maximum Water Temperature', size=19.6, family='Lato')
label(1527, 21, '(B) Deviation of Mean Water Temperature', size=19.6, family='Lato')

fig.savefig('out.png', dpi=100)
